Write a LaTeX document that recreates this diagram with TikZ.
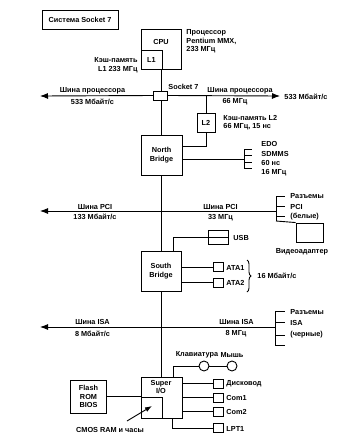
\documentclass[tikz,border=0pt]{standalone}
\usepackage{fontspec}
\setmainfont{Liberation Sans}
\usetikzlibrary{arrows.meta,decorations.pathreplacing}
\begin{document}
\begin{tikzpicture}[x=1pt,y=-1pt,line width=0.9pt,
  every node/.style={font=\fontsize{7.3}{8.5}\selectfont\bfseries,inner sep=0pt},
  lbl/.style={anchor=west},
  rlbl/.style={anchor=east},
  box/.style={draw,minimum width=0pt},
  busarrow/.style={-{Latex[length=8pt,width=6pt]}},
  portbox/.style={draw,minimum width=10pt,minimum height=9pt,anchor=west}]
\useasboundingbox (0,0) rectangle (339,437);
% title
\node[draw,minimum width=76pt,minimum height=19pt,line width=1pt] (title) at (80,19.5) {Система Socket 7};
% CPU
\node[box,minimum width=40pt,minimum height=40pt] (cpu) at (161,49) {};
\node (cput) at (161,42) {CPU};
\draw[line width=0.5pt] (141,50) -- (162,50) -- (162,69);
\node (l1) at (151.5,60) {L1};
\node[lbl,align=left] (cputxt) at (186,41.5) {Процессор\\Pentium MMX,\\233 МГц};
\node[rlbl,align=right] (l1txt) at (138,65) {Кэш-память\\L1 233 МГц};
% socket
\node[draw,minimum width=14pt,minimum height=9pt,fill=white] (sock) at (160.5,95.5) {};
\node[lbl] (socktxt) at (168,87) {Socket 7};
\coordinate (pbL) at (40,96);
\coordinate (pbR) at (280,96);
\draw[busarrow] (sock.west) -- (pbL);
\draw[busarrow] (sock.east) -- (pbR);
\draw (161,69) -- (161,91);
\node[lbl] (pb533r) at (284,96.5) {533 Мбайт/с};
\node (pbl1) at (92.5,90.5) {Шина процессора};
\node (pbl2) at (92.5,102) {533 Мбайт/с};
\node[lbl] (pbr1) at (207,90.5) {Шина процессора};
\node (pbr2) at (235,102) {66 МГц};
% L2
\node[box,minimum width=18pt,minimum height=19pt] (l2) at (206,122.5) {L2};
\draw (206,96) -- (l2.north);
\node[lbl,align=left] (l2txt) at (223,122.5) {Кэш-память L2\\66 МГц, 15 нс};
% North bridge
\node[box,minimum width=41pt,minimum height=40pt,align=center] (nb) at (161.5,155) {North\\Bridge};
\draw (161,100) -- (161,135);
\draw (l2.south) |- (182,146);
% memory
\coordinate (memj) at (244,159);
\draw (182,159) -- (memj);
\draw (244,149) -- (244,169);
\foreach \yy in {149,155.5,162,168.5} \draw (244,\yy) -- (252,\yy);
\node[lbl] (edo) at (261,144) {EDO};
\node[lbl] (sdm) at (261,153.5) {SDMMS};
\node[lbl] (ns) at (261,163) {60 нс};
\node[lbl] (mhz) at (261,172.5) {16 МГц};
% PCI bus
\coordinate (pciL) at (40,211);
\coordinate (pciJ) at (161,211);
\draw[busarrow] (pciJ) -- (pciL);
\draw (pciJ) -- (276,211);
\node (pcil1) at (95,206.5) {Шина PCI};
\node (pcil2) at (95,217) {133 Мбайт/с};
\node (pcir1) at (220.5,206.5) {Шина PCI};
\node (pcir2) at (220.5,217.5) {33 МГц};
% PCI slots
\draw (276,196) -- (276,221);
\foreach \yy in {196,206,216} \draw (276,\yy) -- (285,\yy);
\node[lbl] (pcis1) at (290,196.5) {Разъемы};
\node[lbl] (pcis2) at (290,207) {PCI};
\node[lbl] (pcis3) at (290,217) {(белые)};
\node[box,minimum width=27pt,minimum height=19pt] (vid) at (309.5,232.5) {};
\draw (276,221) -- (vid.north west);
\node (vidtxt) at (302,252) {Видеоадаптер};
% South bridge
\node[box,minimum width=40pt,minimum height=40pt,align=center] (sb) at (161,271) {South\\Bridge};
\draw (161,175) -- (161,251);
% USB
\node[box,minimum width=20pt,minimum height=14pt,anchor=west] (usb) at (208,237) {};
\draw[line width=0.5pt] (usb.west) -- (usb.east);
\draw (173,251) |- (usb.west);
\node[lbl] (usbtxt) at (233,237.5) {USB};
% ATA
\node[portbox] (ata1) at (213,267) {};
\node[portbox] (ata2) at (213,282.5) {};
\draw (181,267) -- (ata1.west);
\draw (181,282.5) -- (ata2.west);
\node[lbl] (ata1t) at (226,267.5) {ATA1};
\node[lbl] (ata2t) at (226,283) {ATA2};
\draw[decorate,decoration={brace,amplitude=4pt}] (247,260) -- (247,292);
\node[lbl] (atasp) at (257,276) {16 Мбайт/с};
% ISA bus
\coordinate (isaL) at (40,327);
\coordinate (isaJ) at (161,327);
\draw[busarrow] (isaJ) -- (isaL);
\draw (isaJ) -- (275,327);
\node (isal1) at (92.5,322) {Шина ISA};
\node (isal2) at (92.5,333.5) {8 Мбайт/с};
\node (isar1) at (236.5,322) {Шина ISA};
\node (isar2) at (236,333.5) {8 МГц};
% ISA slots
\draw (275,311) -- (275,345);
\foreach \yy in {311,322,335,345} \draw (275,\yy) -- (285,\yy);
\node[lbl] (isas1) at (290,312) {Разъемы};
\node[lbl] (isas2) at (290,323) {ISA};
\node[lbl] (isas3) at (290,335) {(черные)};
% Super I/O
\node[box,minimum width=41pt,minimum height=41pt] (sio) at (161.5,397.5) {};
\node[align=center] (siot) at (161,387) {Super\\I/O};
\draw[line width=0.5pt] (141,397) -- (162,397) -- (162,418);
\draw (161,291) -- (161,377);
% Flash
\node[box,minimum width=36pt,minimum height=33pt,align=center] (flash) at (88.5,396.5) {Flash\\ROM\\BIOS};
\draw (flash.east) -- (141,396.5);
% CMOS arrow
\node (cmos) at (110,430) {CMOS RAM и часы};
\coordinate (cmosTip) at (152,406);
\coordinate (cmosTail) at (127,421);
\draw[-{Latex[length=7pt,width=5pt]}] (cmosTail) -- (cmosTip);
% keyboard / mouse
\node[draw,circle,minimum size=10pt] (kbd) at (204,366) {};
\node[draw,circle,minimum size=10pt] (mouse) at (232,366) {};
\draw (173,377) |- (kbd.west);
\draw (kbd.east) -- (mouse.west);
\node (kbdt) at (197,355) {Клавиатура};
\node (mouset) at (232,355) {Мышь};
% ports
\node[portbox] (fdd) at (213,383.5) {};
\node[portbox] (com1) at (213,397.5) {};
\node[portbox] (com2) at (213,411.5) {};
\node[portbox] (lpt) at (213,428) {};
\draw (182,383.5) -- (fdd.west);
\draw (182,397.5) -- (com1.west);
\draw (182,411.5) -- (com2.west);
\draw (172,418) |- (lpt.west);
\node[lbl] (fddt) at (226,384) {Дисковод};
\node[lbl] (com1t) at (226,398) {Com1};
\node[lbl] (com2t) at (226,412) {Com2};
\node[lbl] (lptt) at (226,428.5) {LPT1};
\end{tikzpicture}
\end{document}
